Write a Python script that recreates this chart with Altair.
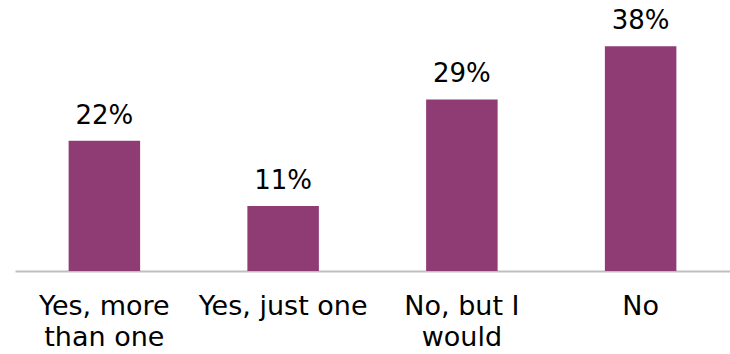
import altair as alt
import pandas as pd

categories = ["Yes, more than one", "Yes, just one", "No, but I would", "No"]
label_lines = [["Yes, more", "than one"], ["Yes, just one"], ["No, but I", "would"], ["No"]]
values = [22, 11, 29, 38]
value_labels = ["22%", "11%", "29%", "38%"]

df = pd.DataFrame({"category": categories, "value": values, "label": value_labels})

expr_parts = []
for cat, lines in zip(categories, label_lines):
    arr = "[" + ",".join("'" + l + "'" for l in lines) + "]"
    expr_parts.append(f"datum.value == '{cat}' ? {arr} : ")
label_expr = "".join(expr_parts) + "datum.value"

FONT = "DejaVu Sans"

x = alt.X(
    "category:N",
    sort=categories,
    scale=alt.Scale(paddingInner=0.6, paddingOuter=0.3),
    axis=alt.Axis(
        title=None,
        labelExpr=label_expr,
        labelAngle=0,
        labelFont=FONT,
        labelFontSize=27,
        labelColor="#000000",
        labelPadding=22,
        labelLineHeight=31,
        labelBaseline="top",
        ticks=False,
        domainColor="#BFBFBF",
        domainWidth=2,
        grid=False,
    ),
)
y = alt.Y("value:Q", scale=alt.Scale(domain=[0, 45.8], nice=False), axis=None)

bars = alt.Chart(df).mark_bar(color="#8F3C74").encode(x=x, y=y)
text = alt.Chart(df).mark_text(
    baseline="alphabetic", dy=-17, font=FONT, fontSize=26, color="#000000"
).encode(x=alt.X("category:N", sort=categories), y=y, text="label:N")

chart = (
    alt.layer(bars, text)
    .properties(
        width=715,
        height=271,
        autosize=alt.AutoSizeParams(type="none"),
        padding={"left": 15, "top": 0, "right": 0, "bottom": 83},
    )
    .configure_view(stroke=None)
)

chart.save("out.html", embed_options={"renderer": "svg", "actions": False})
